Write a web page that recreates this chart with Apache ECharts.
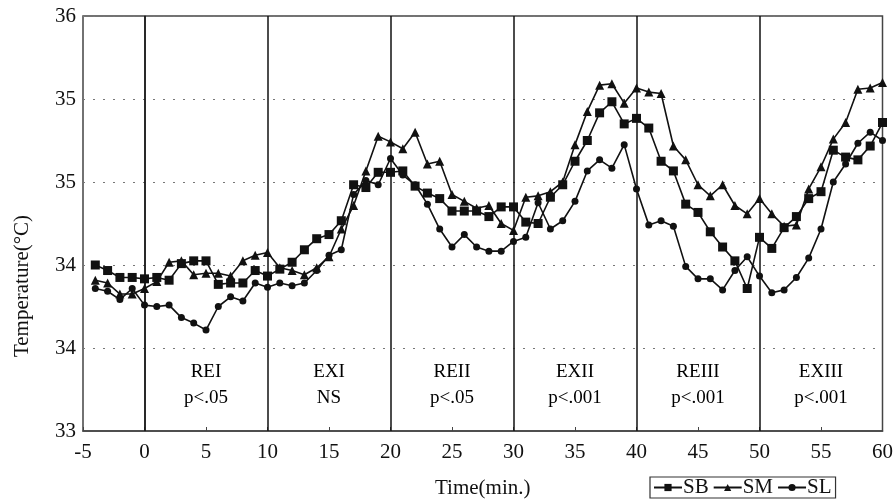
<!DOCTYPE html>
<html>
<head>
<meta charset="utf-8">
<title>Skin temperature over time</title>
<script src="https://cdn.jsdelivr.net/npm/echarts@6/dist/echarts.min.js"></script>
<style>
  html, body { margin: 0; padding: 0; background: #fff; }
  #chart { width: 896px; height: 504px; }
</style>
</head>
<body>
<div id="chart"></div>
<script>
// Sampling times (min.)
const minutes = [-4, -3, -2, -1, 0, 1, 2, 3, 4, 5, 6, 7, 8, 9, 10, 11, 12, 13, 14, 15, 16, 17, 18, 19, 20,
  21, 22, 23, 24, 25, 26, 27, 28, 29, 30, 31, 32, 33, 34, 35, 36, 37, 38, 39, 40,
  41, 42, 43, 44, 45, 46, 47, 48, 49, 50, 51, 52, 53, 54, 55, 56, 57, 58, 59, 60];

// Mean temperature per group (°C)
const sb = [34.20, 34.16, 34.11, 34.11, 34.10, 34.11, 34.09, 34.21, 34.23, 34.23, 34.06, 34.07, 34.07, 34.16, 34.12,
  34.17, 34.22, 34.31, 34.39, 34.42, 34.52, 34.78, 34.76, 34.87, 34.87,
  34.88, 34.77, 34.72, 34.68, 34.59, 34.59, 34.59, 34.55, 34.62, 34.62,
  34.51, 34.50, 34.69, 34.78, 34.95, 35.10, 35.30, 35.38, 35.22, 35.26,
  35.19, 34.95, 34.88, 34.64, 34.58, 34.44, 34.33, 34.23, 34.03, 34.40,
  34.32, 34.47, 34.55, 34.68, 34.73, 35.03, 34.98, 34.96, 35.06, 35.23];

const sm = [34.09, 34.07, 33.99, 33.99, 34.03, 34.08, 34.22, 34.23, 34.13, 34.14, 34.14, 34.12, 34.23, 34.27, 34.29,
  34.18, 34.16, 34.13, 34.18, 34.26, 34.46, 34.63, 34.88, 35.13, 35.09,
  35.04, 35.16, 34.93, 34.95, 34.71, 34.66, 34.61, 34.63, 34.50, 34.45,
  34.69, 34.70, 34.73, 34.80, 35.07, 35.31, 35.50, 35.51, 35.37, 35.48,
  35.45, 35.44, 35.06, 34.96, 34.78, 34.70, 34.78, 34.63, 34.57, 34.68,
  34.57, 34.48, 34.49, 34.75, 34.91, 35.11, 35.23, 35.47, 35.48, 35.52];

const sl = [34.03, 34.01, 33.95, 34.03, 33.91, 33.90, 33.91, 33.82, 33.78, 33.73, 33.90, 33.97, 33.94, 34.07, 34.04,
  34.07, 34.05, 34.07, 34.16, 34.27, 34.31, 34.71, 34.81, 34.78, 34.97,
  34.85, 34.78, 34.64, 34.46, 34.33, 34.42, 34.33, 34.30, 34.30, 34.37,
  34.40, 34.65, 34.46, 34.52, 34.66, 34.88, 34.96, 34.90, 35.07, 34.75,
  34.49, 34.52, 34.48, 34.19, 34.10, 34.10, 34.02, 34.16, 34.26, 34.12,
  34.00, 34.02, 34.11, 34.25, 34.46, 34.80, 34.93, 35.08, 35.16, 35.10];

// Phase boundaries (min.)
const phaseBounds = [0, 10, 20, 30, 40, 50];

// Phase names, significance and the minute each is centred on
const phaseNames = ['REI', 'EXI', 'REII', 'EXII', 'REIII', 'EXIII'];
const phaseStats = ['p<.05', 'NS', 'p<.05', 'p<.001', 'p<.001', 'p<.001'];
const phaseMid = [5, 15, 25, 35, 45, 55];
const phaseLabelLevel = 33.33;

// Temperature axis tick labels, bottom to top
const yTickLabels = ['33', '34', '34', '35', '35', '36'];
const yMin = 33, yMax = 36, yStep = 0.6;

const FONT = '"Liberation Serif", "Times New Roman", serif';
const INK = '#111';

const pairs = arr => minutes.map((m, i) => [m, arr[i]]);

const lineSeries = (name, data, symbol, size) => ({
  name: name,
  type: 'line',
  data: pairs(data),
  symbol: symbol,
  symbolSize: size,
  showAllSymbol: true,
  lineStyle: { color: INK, width: 1.6 },
  itemStyle: { color: INK, borderWidth: 0 },
  emphasis: { disabled: true },
  z: 3
});

const chart = echarts.init(document.getElementById('chart'), null, { renderer: 'canvas' });

chart.setOption({
  animation: false,
  backgroundColor: '#fff',
  grid: {
    left: 83, right: 11, top: 16, bottom: 70,
    show: true,
    borderColor: '#444',
    borderWidth: 1.5,
    backgroundColor: 'transparent'
  },
  graphic: [{
    type: 'text',
    x: 22,
    y: 286,
    rotation: Math.PI / 2,
    style: {
      text: 'Temperature(°C)',
      font: '21px ' + FONT,
      fill: INK,
      align: 'center',
      verticalAlign: 'middle',
      textAlign: 'center',
      textVerticalAlign: 'middle'
    }
  }],
  legend: {
    data: ['SB', 'SM', 'SL'],
    left: 650,
    top: 477,
    orient: 'horizontal',
    itemWidth: 28,
    itemHeight: 9,
    itemGap: 4,
    padding: [0, 4, 0, 3],
    borderColor: '#333',
    borderWidth: 1.2,
    selectedMode: false,
    textStyle: { fontFamily: FONT, fontSize: 21, color: INK, padding: [0, 0, 0, -4] }
  },
  xAxis: {
    type: 'value',
    min: -5,
    max: 60,
    interval: 5,
    name: 'Time(min.)',
    nameLocation: 'middle',
    nameGap: 47,
    nameTextStyle: { fontFamily: FONT, fontSize: 21, color: INK },
    axisLine: { show: true, lineStyle: { color: '#444', width: 1.5 } },
    axisTick: { show: true, inside: true, length: 4, lineStyle: { color: '#444' } },
    axisLabel: { fontFamily: FONT, fontSize: 21, color: INK, margin: 11 },
    splitLine: { show: false }
  },
  yAxis: {
    type: 'value',
    min: yMin,
    max: yMax,
    interval: yStep,
    axisLine: { show: true, lineStyle: { color: '#444', width: 1.5 } },
    axisTick: { show: false },
    axisLabel: {
      fontFamily: FONT, fontSize: 21, color: INK, margin: 7,
      formatter: v => yTickLabels[Math.round((v - yMin) / yStep)]
    },
    splitLine: { show: true, lineStyle: { color: '#777', type: [2, 8], width: 1 } }
  },
  series: [
    lineSeries('SB', sb, 'rect', 9),
    lineSeries('SM', sm, 'triangle', 9),
    lineSeries('SL', sl, 'circle', 7),
    {
      name: 'phases',
      type: 'scatter',
      data: phaseMid.map((m, i) => [m, phaseLabelLevel, phaseNames[i] + '\n' + phaseStats[i]]),
      symbolSize: 0,
      silent: true,
      itemStyle: { color: INK, opacity: 1 },
      label: {
        show: true,
        position: 'inside',
        formatter: p => p.data[2],
        fontFamily: FONT,
        fontSize: 19,
        lineHeight: 26,
        color: '#000',
        opacity: 1,
        textBorderWidth: 0,
        align: 'center'
      },
      markLine: {
        silent: true,
        symbol: 'none',
        label: { show: false },
        lineStyle: { color: INK, type: 'solid', width: 1.5 },
        data: phaseBounds.map(b => ({ xAxis: b }))
      },
      z: 2
    }
  ]
});
</script>
</body>
</html>
